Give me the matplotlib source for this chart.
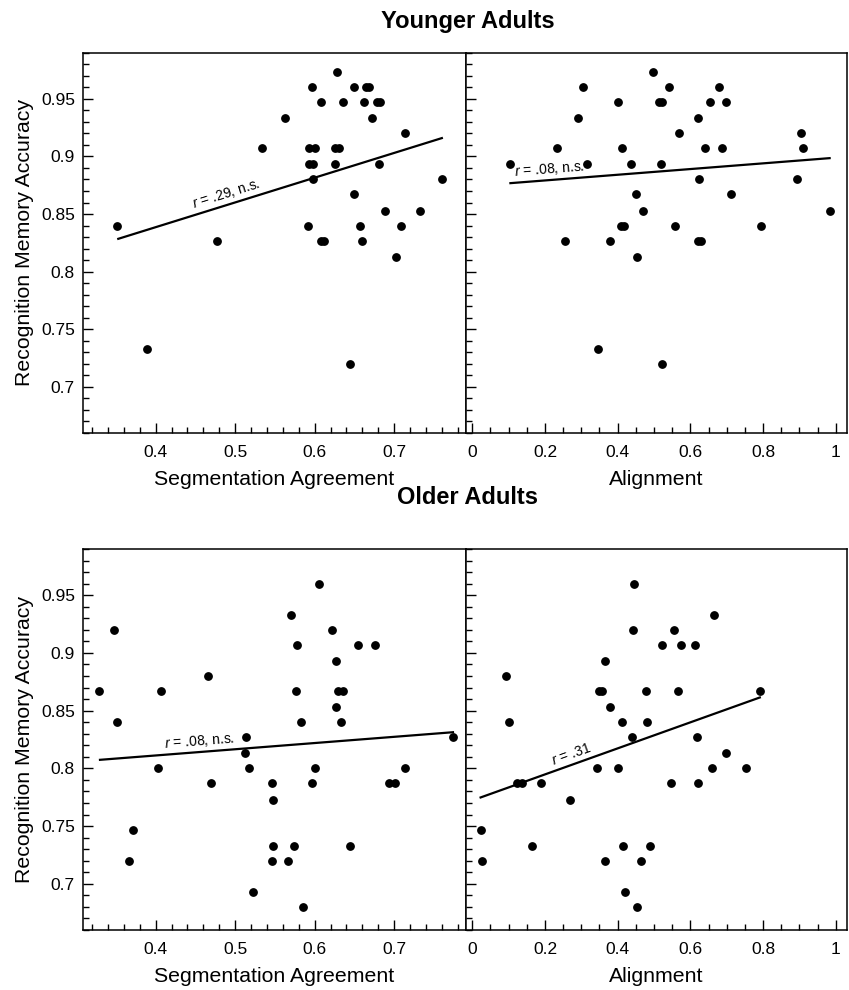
import numpy as np
import matplotlib
matplotlib.use('Agg')
import matplotlib.pyplot as plt
from matplotlib.ticker import MultipleLocator, FormatStrFormatter

plt.rcParams['font.family'] = ['Liberation Sans', 'DejaVu Sans']
plt.rcParams['mathtext.fontset'] = 'custom'
plt.rcParams['mathtext.rm'] = 'Liberation Sans'
plt.rcParams['mathtext.it'] = 'Liberation Sans:italic'

# younger adults - segmentation agreement
ya_seg_x = [0.352, 0.389, 0.477, 0.534, 0.563, 0.592, 0.593, 0.600, 0.593, 0.598,
            0.597, 0.598, 0.608, 0.608, 0.612, 0.625, 0.626, 0.631, 0.628, 0.636,
            0.644, 0.649, 0.650, 0.657, 0.660, 0.662, 0.665, 0.668, 0.672, 0.679,
            0.682, 0.681, 0.688, 0.702, 0.708, 0.714, 0.732, 0.760]
ya_seg_y = [0.840, 0.733, 0.827, 0.907, 0.933, 0.840, 0.907, 0.907, 0.893, 0.893,
            0.960, 0.880, 0.947, 0.827, 0.827, 0.893, 0.907, 0.907, 0.973, 0.947,
            0.720, 0.867, 0.960, 0.840, 0.827, 0.947, 0.960, 0.960, 0.933, 0.947,
            0.947, 0.893, 0.853, 0.813, 0.840, 0.920, 0.853, 0.880]

# younger adults - alignment
ya_ali_x = [0.104, 0.232, 0.255, 0.290, 0.306, 0.317, 0.345, 0.380, 0.401, 0.410,
            0.418, 0.412, 0.437, 0.451, 0.452, 0.470, 0.496, 0.513, 0.522, 0.519,
            0.522, 0.541, 0.557, 0.569, 0.621, 0.623, 0.622, 0.630, 0.639, 0.655,
            0.679, 0.688, 0.697, 0.713, 0.793, 0.893, 0.905, 0.909, 0.983]
ya_ali_y = [0.893, 0.907, 0.827, 0.933, 0.960, 0.893, 0.733, 0.827, 0.947, 0.840,
            0.840, 0.907, 0.893, 0.867, 0.813, 0.853, 0.973, 0.947, 0.947, 0.893,
            0.720, 0.960, 0.840, 0.920, 0.933, 0.880, 0.827, 0.827, 0.907, 0.947,
            0.960, 0.907, 0.947, 0.867, 0.840, 0.880, 0.920, 0.907, 0.853]

# older adults - segmentation agreement
oa_seg_x = [0.329, 0.348, 0.351, 0.367, 0.371, 0.403, 0.407, 0.466, 0.469, 0.513,
            0.514, 0.517, 0.522, 0.546, 0.548, 0.547, 0.546, 0.566, 0.570, 0.574,
            0.576, 0.578, 0.583, 0.585, 0.597, 0.600, 0.605, 0.622, 0.627, 0.627,
            0.630, 0.636, 0.633, 0.644, 0.654, 0.676, 0.693, 0.701, 0.714, 0.774]
oa_seg_y = [0.867, 0.920, 0.840, 0.720, 0.747, 0.800, 0.867, 0.880, 0.787, 0.813,
            0.827, 0.800, 0.693, 0.787, 0.773, 0.733, 0.720, 0.720, 0.933, 0.733,
            0.867, 0.907, 0.840, 0.680, 0.787, 0.800, 0.960, 0.920, 0.893, 0.853,
            0.867, 0.867, 0.840, 0.733, 0.907, 0.907, 0.787, 0.787, 0.800, 0.827]

# older adults - alignment
oa_ali_x = [0.023, 0.028, 0.094, 0.102, 0.122, 0.137, 0.165, 0.189, 0.270, 0.343,
            0.349, 0.357, 0.364, 0.365, 0.380, 0.402, 0.413, 0.416, 0.419, 0.440,
            0.442, 0.445, 0.453, 0.465, 0.478, 0.481, 0.489, 0.522, 0.548, 0.555,
            0.566, 0.575, 0.614, 0.617, 0.621, 0.659, 0.664, 0.697, 0.753, 0.791]
oa_ali_y = [0.747, 0.720, 0.880, 0.840, 0.787, 0.787, 0.733, 0.787, 0.773, 0.800,
            0.867, 0.867, 0.720, 0.893, 0.853, 0.800, 0.840, 0.733, 0.693, 0.827,
            0.920, 0.960, 0.680, 0.720, 0.867, 0.840, 0.733, 0.907, 0.787, 0.920,
            0.867, 0.907, 0.907, 0.827, 0.787, 0.800, 0.933, 0.813, 0.800, 0.867]

# regression line end points
ya_seg_fit_x, ya_seg_fit_y = [0.353, 0.760], [0.8285, 0.9159]
ya_ali_fit_x, ya_ali_fit_y = [0.105, 0.983], [0.8768, 0.8985]
oa_seg_fit_x, oa_seg_fit_y = [0.330, 0.774], [0.8074, 0.8313]
oa_ali_fit_x, oa_ali_fit_y = [0.023, 0.791], [0.7748, 0.8614]

r_labels = [r'$r$ = .29, n.s.', r'$r$ = .08, n.s.', r'$r$ = .08, n.s.', r'$r$ = .31']
r_label_x = [0.492, 0.214, 0.4565, 0.280]

titles = ['Younger Adults', 'Older Adults']
xlabels = ['Segmentation Agreement', 'Alignment']

fig = plt.figure(figsize=(8.49, 9.9), dpi=100)

left = 83.3 / 849
mid = 465.7 / 849
right = 846.7 / 849
ax_tl = fig.add_axes([left, 1 - 433 / 990, mid - left, 380.3 / 990])
ax_tr = fig.add_axes([mid, 1 - 433 / 990, right - mid, 380.3 / 990])
ax_bl = fig.add_axes([left, 1 - 930 / 990, mid - left, 381 / 990])
ax_br = fig.add_axes([mid, 1 - 930 / 990, right - mid, 381 / 990])

panels = [
    (ax_tl, ya_seg_x, ya_seg_y, ya_seg_fit_x, ya_seg_fit_y, 0),
    (ax_tr, ya_ali_x, ya_ali_y, ya_ali_fit_x, ya_ali_fit_y, 1),
    (ax_bl, oa_seg_x, oa_seg_y, oa_seg_fit_x, oa_seg_fit_y, 2),
    (ax_br, oa_ali_x, oa_ali_y, oa_ali_fit_x, oa_ali_fit_y, 3),
]

for ax, x, y, fx, fy, i in panels:
    ax.plot(x, y, 'o', color='black', markersize=5.3, zorder=3)
    ax.plot(fx, fy, '-', color='black', linewidth=1.6)
    ax.set_ylim(0.66, 0.99)
    ax.yaxis.set_major_locator(MultipleLocator(0.05))
    ax.yaxis.set_minor_locator(MultipleLocator(0.01))
    ax.yaxis.set_major_formatter(FormatStrFormatter('%g'))
    ax.xaxis.set_major_formatter(FormatStrFormatter('%g'))
    if i % 2 == 0:
        ax.set_xlim(0.309, 0.79)
        ax.xaxis.set_major_locator(MultipleLocator(0.1))
        ax.xaxis.set_minor_locator(MultipleLocator(0.02))
        ax.set_ylabel('Recognition Memory Accuracy', fontsize=15.3)
        ax.yaxis.set_label_coords(-0.128, 0.5)
    else:
        ax.set_xlim(-0.018, 1.03)
        ax.xaxis.set_major_locator(MultipleLocator(0.2))
        ax.xaxis.set_minor_locator(MultipleLocator(0.05))
        ax.tick_params(axis='y', which='both', labelleft=False)
    ax.set_xlabel(xlabels[i % 2], fontsize=15.3)
    ax.xaxis.set_label_coords(0.5, -0.097)
    ax.tick_params(which='both', direction='in', top=False, right=False, width=1.0)
    ax.tick_params(which='major', length=7, labelsize=12.5, pad=6)
    ax.tick_params(axis='x', which='major', pad=8.5)
    ax.tick_params(which='minor', length=4)
    for s in ax.spines.values():
        s.set_linewidth(1.1)

    # correlation label along the fit line
    p = ax.transData.transform(np.column_stack([fx, fy]))
    angle = np.degrees(np.arctan2(p[1, 1] - p[0, 1], p[1, 0] - p[0, 0]))
    lx = r_label_x[i]
    ly = np.interp(lx, fx, fy)
    ax.annotate(r_labels[i], (lx, ly), xytext=(0, 2), textcoords='offset points',
                rotation=angle, rotation_mode='anchor', ha='center', va='bottom',
                fontsize=10)

fig.text(0.551, 1 - 21.7 / 990, titles[0], ha='center', va='center',
         fontsize=17, fontweight='bold')
fig.text(0.551, 1 - 497 / 990, titles[1], ha='center', va='center',
         fontsize=17, fontweight='bold')

plt.savefig('out.png', dpi=100)
